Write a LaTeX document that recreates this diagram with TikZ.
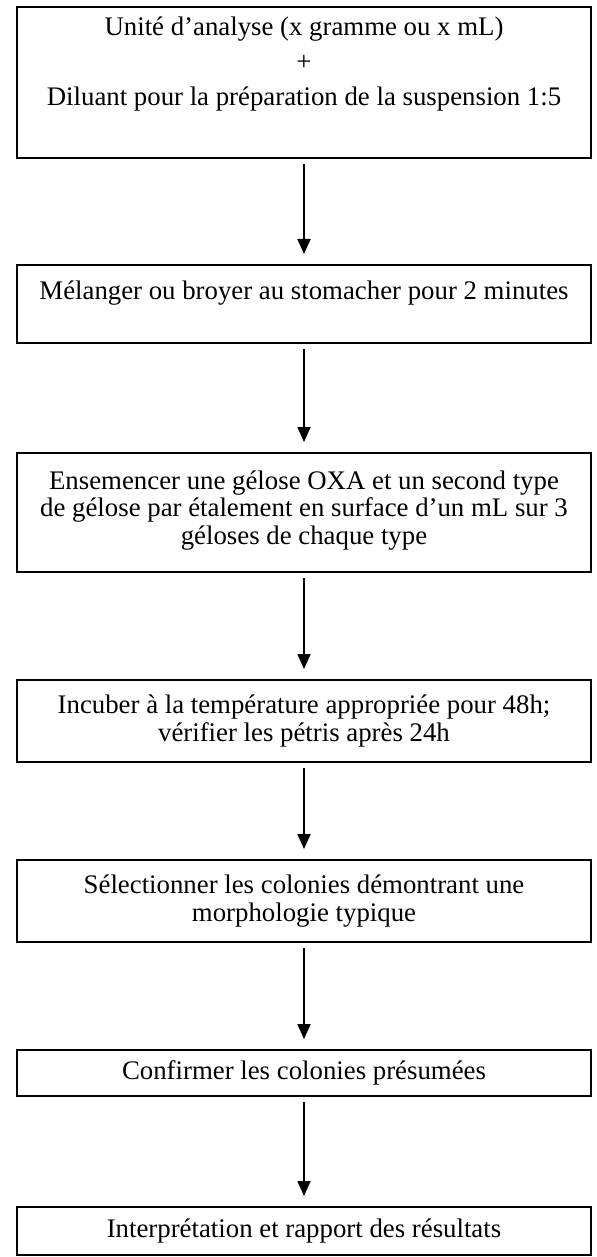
\documentclass[tikz,border=0pt]{standalone}
\usepackage{fontspec}
\setmainfont{Liberation Serif}
\usetikzlibrary{arrows.meta, positioning}

\begin{document}
\begin{tikzpicture}[x=0.5pt, y=-0.5pt, line width=1pt,
    stepbox/.style={draw, line width=1pt, minimum width=287pt, inner sep=0pt,
        align=center, font=\fontsize{13.4}{13.75}\selectfont},
    flow/.style={-{Triangle[length=7.5pt, width=6.5pt]}, line width=0.9pt,
        shorten <=2.5pt, shorten >=5pt}]
    \useasboundingbox (0,0) rectangle (597,1257);
    \node[stepbox, minimum height=75.5pt, font=\fontsize{13.4}{17.5}\selectfont] (unite) at (304,82.5)
        {Unité d’analyse (x gramme ou x mL)\\+\\Diluant pour la préparation de la suspension 1:5\\[3.5pt] \mbox{}};
    \node[stepbox, minimum height=39pt] (melange) at (304,304)
        {Mélanger ou broyer au stomacher pour 2 minutes\\ \mbox{}};
    \node[stepbox, minimum height=59.5pt, text depth=5pt] (ensemencer) at (304,512.5)
        {Ensemencer une gélose OXA et un second type\\de gélose par étalement en surface d’un mL sur 3\\géloses de chaque type};
    \node[stepbox, minimum height=41pt] (incuber) at (304,721)
        {Incuber à la température appropriée pour 48h;\\vérifier les pétris après 24h};
    \node[stepbox, minimum height=41pt] (selection) at (304,901)
        {Sélectionner les colonies démontrant une\\morphologie typique};
    \node[stepbox, minimum height=23pt] (confirmer) at (304,1073)
        {Confirmer les colonies présumées};
    \node[stepbox, minimum height=24pt] (rapport) at (304,1231)
        {Interprétation et rapport des résultats};
    \draw[flow] (unite) -- (melange);
    \draw[flow] (melange) -- (ensemencer);
    \draw[flow] (ensemencer) -- (incuber);
    \draw[flow] (incuber) -- (selection);
    \draw[flow] (selection) -- (confirmer);
    \draw[flow] (confirmer) -- (rapport);
\end{tikzpicture}
\end{document}
